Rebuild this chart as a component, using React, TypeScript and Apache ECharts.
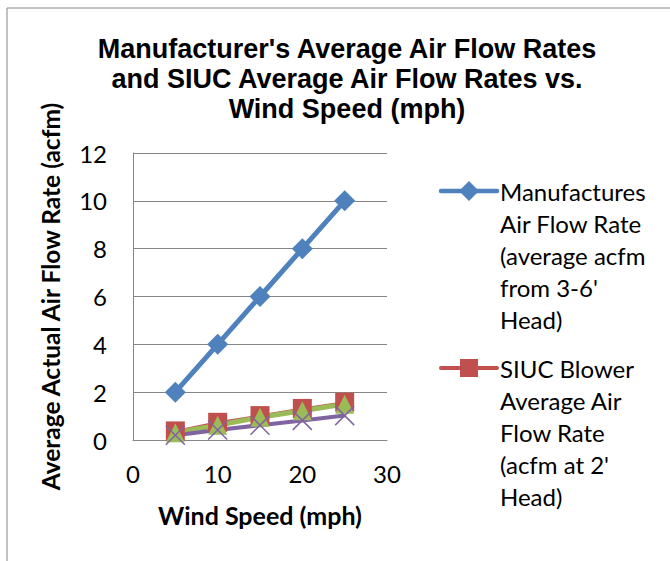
import React, { useEffect, useRef } from "react";
import * as echarts from "echarts";

const windSpeed = [5, 10, 15, 20, 25];
const manufacturer = [2, 4, 6, 8, 10];
const siucBlower = [0.38, 0.74, 1.02, 1.32, 1.58];
const series3 = [0.3, 0.62, 0.95, 1.22, 1.5];
const series4 = [0.2, 0.42, 0.62, 0.82, 1.02];

const xTicks = { min: 0, max: 30, interval: 10 };
const yTicks = { min: 0, max: 12, interval: 2 };

const titleText =
  "Manufacturer's Average Air Flow Rates\nand SIUC Average Air Flow Rates vs.\nWind Speed (mph)";
const legendManufacturer = [
  "Manufactures",
  "Air Flow Rate",
  "(average acfm",
  "from 3-6'",
  "Head)",
];
const legendSiuc = [
  "SIUC Blower",
  "Average Air",
  "Flow Rate",
  "(acfm at 2'",
  "Head)",
];

const BLUE = "#4F81BD";
const RED = "#C0504D";
const GREEN = "#9BBB59";
const PURPLE = "#8064A2";
const GRAY = "#868686";
const FONT = "Lato";

function pairs(ys: number[]) {
  return windSpeed.map((x, i) => [x, ys[i]]);
}

export default function App() {
  const ref = useRef<HTMLDivElement>(null);
  useEffect(() => {
    if (!ref.current) return;
    const chart = echarts.init(ref.current, undefined, { renderer: "svg" });
    const legendText = (lines: string[], y: number) => ({
      type: "text",
      left: 500,
      top: y,
      style: {
        text: lines.join("\n"),
        font: `24px ${FONT}`,
        lineHeight: 32,
        fill: "#000",
      },
    });
    chart.setOption({
      animation: false,
      backgroundColor: "#fff",
      title: {
        text: titleText,
        left: 342,
        top: 29,
        textAlign: "center",
        textStyle: {
          fontFamily: "'Liberation Sans', Arial, sans-serif",
          fontWeight: "bold",
          fontSize: 27,
          lineHeight: 30,
          color: "#000",
        },
      },
      grid: { left: 133, right: 283, top: 153, bottom: 121 },
      xAxis: {
        type: "value",
        ...xTicks,
        name: "Wind Speed (mph)",
        nameLocation: "middle",
        nameGap: 62,
        nameTextStyle: { fontFamily: FONT, fontWeight: "bold", fontSize: 25, color: "#000" },
        axisLine: { show: true, lineStyle: { color: GRAY, width: 1 } },
        axisTick: { show: false },
        splitLine: { show: false },
        axisLabel: { fontFamily: FONT, fontSize: 24, color: "#000", margin: 21 },
      },
      yAxis: {
        type: "value",
        ...yTicks,
        name: "Average Actual Air Flow Rate (acfm)",
        nameLocation: "middle",
        nameGap: 70,
        nameTextStyle: { fontFamily: FONT, fontWeight: "bold", fontSize: 24.5, color: "#000" },
        axisLine: { show: true, lineStyle: { color: GRAY, width: 1 } },
        axisTick: { show: false },
        splitLine: { show: true, lineStyle: { color: GRAY, width: 1 } },
        axisLabel: { fontFamily: FONT, fontSize: 24, color: "#000", margin: 26 },
      },
      series: [
        {
          name: legendManufacturer.join(" "),
          type: "line",
          data: pairs(manufacturer),
          symbol: "diamond",
          symbolSize: 21,
          lineStyle: { color: BLUE, width: 5 },
          itemStyle: { color: BLUE },
        },
        {
          name: legendSiuc.join(" "),
          type: "line",
          data: pairs(siucBlower),
          symbol: "rect",
          symbolSize: 19,
          lineStyle: { color: RED, width: 2 },
          itemStyle: { color: RED },
        },
        {
          name: "Series 3",
          type: "line",
          data: pairs(series3),
          symbol: "triangle",
          symbolSize: 19,
          lineStyle: { color: GREEN, width: 5 },
          itemStyle: { color: GREEN },
        },
        {
          name: "Series 4",
          type: "line",
          data: pairs(series4),
          symbol: "path://M0,0L10,10M10,0L0,10",
          symbolSize: 19,
          lineStyle: { color: PURPLE, width: 4 },
          itemStyle: { color: "none", borderColor: PURPLE, borderWidth: 1.5 },
        },
      ],
      graphic: [
        {
          type: "rect",
          shape: { x: 7, y: 8, width: 720, height: 620 },
          style: { fill: "none", stroke: GRAY, lineWidth: 1 },
          silent: true,
        },
        {
          type: "line",
          shape: { x1: 441, y1: 191, x2: 497, y2: 191 },
          style: { stroke: BLUE, lineWidth: 4.5, lineCap: "round" },
        },
        {
          type: "polygon",
          shape: { points: [[469, 181], [479, 191], [469, 201], [459, 191]] },
          style: { fill: BLUE },
        },
        legendText(legendManufacturer, 175),
        {
          type: "line",
          shape: { x1: 441, y1: 368, x2: 497, y2: 368 },
          style: { stroke: RED, lineWidth: 4, lineCap: "round" },
        },
        {
          type: "rect",
          shape: { x: 460, y: 359, width: 18, height: 18 },
          style: { fill: RED },
        },
        legendText(legendSiuc, 352),
      ],
    });
    return () => chart.dispose();
  }, []);
  return (
    <div
      ref={ref}
      style={{ position: "fixed", left: 0, top: 0, width: 670, height: 561 }}
    />
  );
}
